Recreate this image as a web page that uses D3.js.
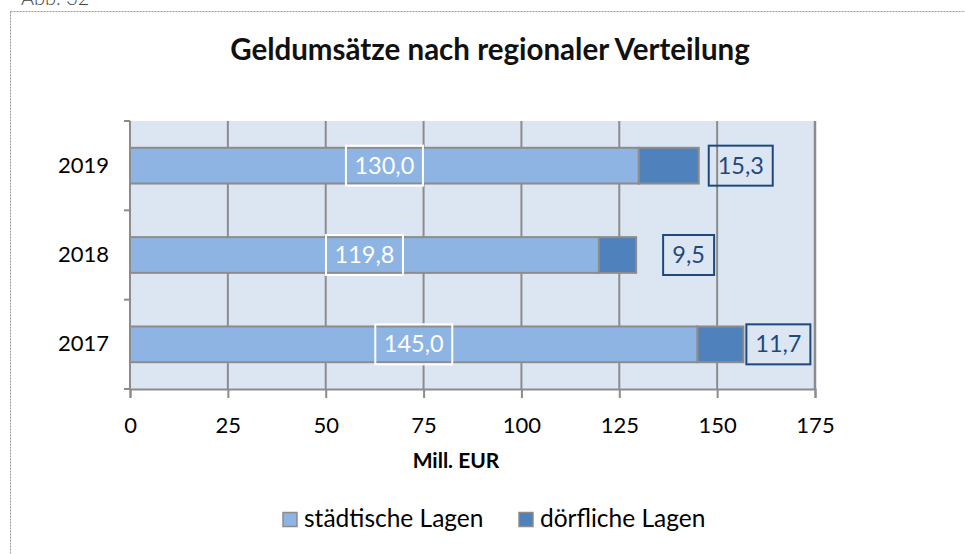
<!DOCTYPE html>
<html lang="de">
<head>
<meta charset="utf-8">
<title>Geldumsätze nach regionaler Verteilung</title>
<script src="https://cdn.jsdelivr.net/npm/d3@7/dist/d3.min.js"></script>
<style>
  body { margin: 0; background: #fff; }
  svg { display: block; font-family: Lato, "Open Sans", sans-serif; }
</style>
</head>
<body>
<div id="chart"></div>
<script>
const width = 965, height = 554;

// data
const years = ["2019", "2018", "2017"];
const staedtisch = [130.0, 119.8, 145.0];
const doerflich = [15.3, 9.5, 11.7];
const xTicks = [0, 25, 50, 75, 100, 125, 150, 175];
const seriesNames = ["städtische Lagen", "dörfliche Lagen"];

// label nudges (px) for the outside labels, as placed in the original
const outsideGap = [10, 27, 3];

const colors = ["#8eb4e3", "#4f81bd"];
const grid = "#8c8c8c";
const fmt = v => d3.format(".1f")(v).replace(".", ",");

const svg = d3.select("#chart").append("svg")
  .attr("width", width)
  .attr("height", height);

// outer frame, dotted
svg.append("rect")
  .attr("x", 10.5).attr("y", 11.5)
  .attr("width", 1000).attr("height", 600)
  .attr("fill", "none")
  .attr("stroke", "#9a9a9a")
  .attr("stroke-dasharray", "2,1");

svg.append("text")
  .attr("x", 21).attr("y", 5)
  .attr("font-size", 20)
  .attr("font-weight", 300)
  .attr("fill", "#444")
  .text("Abb. 32");

svg.append("text")
  .attr("x", 490).attr("y", 60)
  .attr("text-anchor", "middle")
  .attr("font-size", 29.5)
  .attr("font-weight", "bold")
  .attr("fill", "#111")
  .text("Geldumsätze nach regionaler Verteilung");

const x = d3.scaleLinear().domain([0, 175]).range([130, 815]);
const y = d3.scaleBand().domain(years).range([121, 389])
  .paddingInner(0.6).paddingOuter(0.3);

// plot area
svg.append("rect")
  .attr("x", x(0)).attr("y", 121)
  .attr("width", x(175) - x(0)).attr("height", 389 - 121)
  .attr("fill", "#dce6f2");

// vertical grid lines
svg.append("g")
  .selectAll("line")
  .data(xTicks.slice(1))
  .join("line")
  .attr("x1", d => x(d)).attr("x2", d => x(d))
  .attr("y1", 121).attr("y2", 389)
  .attr("stroke", grid)
  .attr("stroke-width", 2);

// bars
const rows = years.map((yr, i) => ({ yr, a: staedtisch[i], b: doerflich[i], gap: outsideGap[i] }));

const bars = svg.append("g");
bars.selectAll("rect.a")
  .data(rows)
  .join("rect")
  .attr("class", "a")
  .attr("x", x(0))
  .attr("y", d => y(d.yr))
  .attr("width", d => x(d.a) - x(0))
  .attr("height", y.bandwidth())
  .attr("fill", colors[0])
  .attr("stroke", grid)
  .attr("stroke-width", 2);

bars.selectAll("rect.b")
  .data(rows)
  .join("rect")
  .attr("class", "b")
  .attr("x", d => x(d.a))
  .attr("y", d => y(d.yr))
  .attr("width", d => x(d.a + d.b) - x(d.a))
  .attr("height", y.bandwidth())
  .attr("fill", colors[1])
  .attr("stroke", grid)
  .attr("stroke-width", 2);

// axes
const xAxis = svg.append("g")
  .attr("transform", "translate(0,389)")
  .call(d3.axisBottom(x).tickValues(xTicks).tickSize(9).tickPadding(19));
xAxis.select(".domain").attr("stroke", grid).attr("stroke-width", 2);
xAxis.selectAll(".tick line").attr("stroke", grid).attr("stroke-width", 2);
xAxis.selectAll("text").attr("font-size", 22).attr("fill", "#000")
  .attr("font-family", "Lato, sans-serif");

const yAxis = svg.append("g")
  .attr("transform", "translate(130,0)")
  .call(d3.axisLeft(y).tickSize(0).tickPadding(21));
yAxis.select(".domain").remove();
yAxis.selectAll("text").attr("font-size", 22).attr("fill", "#000")
  .attr("font-family", "Lato, sans-serif");

// y axis line with ticks at band boundaries
svg.append("line")
  .attr("x1", 130).attr("x2", 130).attr("y1", 121).attr("y2", 389)
  .attr("stroke", grid).attr("stroke-width", 2);
svg.append("g").selectAll("line")
  .data([121, 121 + y.step(), 121 + 2 * y.step(), 389])
  .join("line")
  .attr("x1", 124).attr("x2", 130)
  .attr("y1", d => d).attr("y2", d => d)
  .attr("stroke", grid).attr("stroke-width", 2);

// right edge of plot
svg.append("line")
  .attr("x1", x(175)).attr("x2", x(175)).attr("y1", 121).attr("y2", 389)
  .attr("stroke", grid).attr("stroke-width", 2.5);

// data labels
function boxLabel(g, cx, cy, txt, color, w) {
  g.append("rect")
    .attr("x", cx - w / 2).attr("y", cy - 20)
    .attr("width", w).attr("height", 40)
    .attr("fill", "none")
    .attr("stroke", color).attr("stroke-width", 2);
  g.append("text")
    .attr("x", cx).attr("y", cy + 8)
    .attr("text-anchor", "middle")
    .attr("font-size", 23.5)
    .attr("fill", color)
    .text(txt);
}

const labels = svg.append("g");
rows.forEach(d => {
  const cy = y(d.yr) + y.bandwidth() / 2;
  boxLabel(labels, (x(0) + x(d.a)) / 2, cy, fmt(d.a), "#ffffff", 77);
  const txt = fmt(d.b);
  const w = txt.length > 3 ? 64 : 51;
  boxLabel(labels, x(d.a + d.b) + d.gap + w / 2, cy, txt, "#1f497d", w);
});

// axis title
svg.append("text")
  .attr("x", 456).attr("y", 468)
  .attr("text-anchor", "middle")
  .attr("font-size", 21)
  .attr("font-weight", "bold")
  .text("Mill. EUR");

// legend
const legend = svg.append("g");
const legendX = [283, 519];
seriesNames.forEach((name, i) => {
  legend.append("rect")
    .attr("x", legendX[i]).attr("y", 512.5)
    .attr("width", 14).attr("height", 14)
    .attr("fill", colors[i])
    .attr("stroke", grid).attr("stroke-width", 1.5);
  legend.append("text")
    .attr("x", legendX[i] + 21).attr("y", 527)
    .attr("font-size", 24.5)
    .text(name);
});
</script>
</body>
</html>
